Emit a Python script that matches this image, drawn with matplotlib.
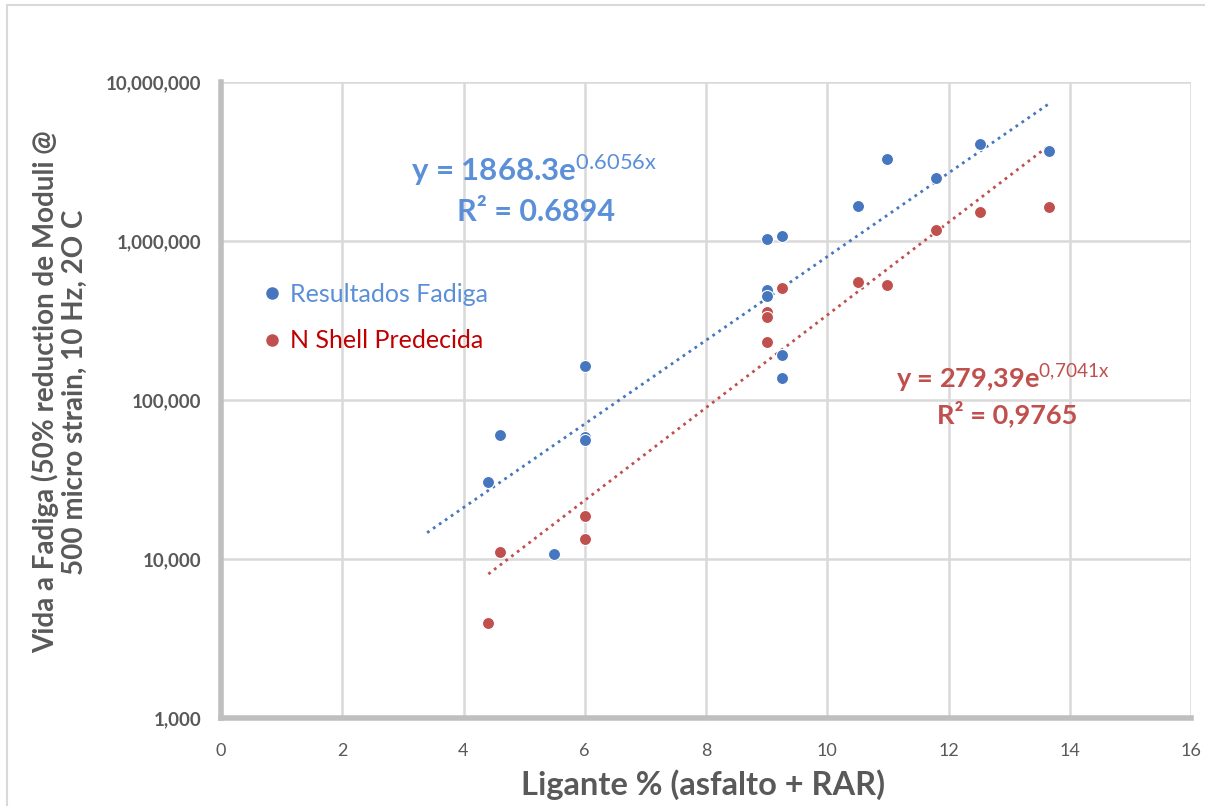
import numpy as np
import matplotlib
matplotlib.use("Agg")
import matplotlib.pyplot as plt
from matplotlib.lines import Line2D

plt.rcParams['font.family'] = ['Lato', 'DejaVu Sans']
plt.rcParams['mathtext.fontset'] = 'custom'
plt.rcParams['mathtext.rm'] = 'Lato'
plt.rcParams['mathtext.bf'] = 'Lato:bold'
plt.rcParams['mathtext.it'] = 'Lato:italic'

# ---- data ----
blue_x = [4.41, 4.61, 5.5, 6.0, 6.0, 6.0, 9.0, 9.0, 9.0, 9.25, 9.25, 9.25, 10.5, 10.98, 11.8, 12.52, 13.66]
blue_y = [30500, 60300, 10700, 163700, 58500, 56000, 1030000, 492000, 451000, 1070000, 192000, 137000,
          1660000, 3280000, 2490000, 4070000, 3680000]
red_x = [4.41, 4.61, 6.0, 6.0, 9.0, 9.0, 9.0, 9.25, 10.5, 10.98, 11.8, 12.52, 13.66]
red_y = [3950, 11070, 18600, 13400, 357000, 333000, 232000, 506000, 552000, 529000, 1178000, 1528000, 1644000]

blue_trend = (1868.3, 0.6056)   # a, b of y = a*exp(b x)
blue_trend_x = [3.4, 13.66]
red_trend = (417.0, 0.671)
red_trend_x = [4.41, 13.62]

x_ticks = [0, 2, 4, 6, 8, 10, 12, 14, 16]
y_ticks = [1000, 10000, 100000, 1000000, 10000000]
y_ticklabels = ["1,000", "10,000", "100,000", "1,000,000", "10,000,000"]

series_labels = ["Resultados Fadiga", "N Shell Predecida"]

BLUE = "#4677BE"
RED = "#C0504D"
BLUE_TXT = "#5B8FD8"
RED_LEG = "#C00000"
GRAY = "#595959"

fig = plt.figure(figsize=(12.05, 8.06), dpi=100)
ax = fig.add_axes([221/1205, 1-718/806, (1191-221)/1205, (718-82)/806])

ax.set_yscale('log')
ax.set_xlim(0, 16)
ax.set_ylim(1000, 10000000)

ax.set_xticks(x_ticks)
ax.set_xticklabels([str(v) for v in x_ticks])
ax.set_yticks(y_ticks)
ax.set_yticklabels(y_ticklabels)
ax.yaxis.set_minor_locator(matplotlib.ticker.NullLocator())

ax.grid(True, color="#D9D9D9", linewidth=1.8)
ax.set_axisbelow(True)

for s in ['top', 'right']:
    ax.spines[s].set_visible(False)
for s in ['left', 'bottom']:
    ax.spines[s].set_color("#BFBFBF")
    ax.spines[s].set_linewidth(4)

ax.tick_params(axis='both', length=0)
ax.tick_params(axis='x', pad=18, labelsize=13, labelcolor=GRAY)
ax.tick_params(axis='y', pad=14, labelsize=13.5, labelcolor=GRAY)
for t in ax.get_yticklabels():
    t.set_fontweight('bold')

# trendlines
for (a, b), xr, c in [(blue_trend, blue_trend_x, BLUE), (red_trend, red_trend_x, RED)]:
    xx = np.linspace(xr[0], xr[1], 100)
    ax.plot(xx, a*np.exp(b*xx), linestyle=(0, (1, 1.6)), color=c, linewidth=2, zorder=2)

ax.scatter(blue_x, blue_y, s=75, color=BLUE, edgecolors='white', linewidths=0.8, zorder=3)
ax.scatter(red_x, red_y, s=75, color=RED, edgecolors='white', linewidths=0.8, zorder=3)

# legend
handles = [Line2D([], [], marker='o', linestyle='none', color=BLUE, markersize=8),
           Line2D([], [], marker='o', linestyle='none', color=RED, markersize=8)]
ax.legend(handles, series_labels, loc='upper left', bbox_to_anchor=(0.017, 0.72),
          frameon=False, fontsize=18, labelcolor=[BLUE_TXT, RED_LEG],
          handletextpad=0.2, labelspacing=0.95, handlelength=1.0)

# equations
ax.text(0.323, 0.862, r"y = 1868.3e$^{\mathrm{0.6056x}}$", transform=ax.transAxes,
        ha='center', va='center', fontsize=22.5, fontweight='bold', color=BLUE_TXT)
ax.text(0.325, 0.795, "R² = 0.6894", transform=ax.transAxes,
        ha='center', va='center', fontsize=22, fontweight='bold', color=BLUE_TXT)
ax.text(0.806, 0.535, r"y = 279,39e$^{\mathrm{0{,}7041x}}$", transform=ax.transAxes,
        ha='center', va='center', fontsize=19.5, fontweight='bold', color=RED)
ax.text(0.811, 0.478, "R² = 0,9765", transform=ax.transAxes,
        ha='center', va='center', fontsize=19.5, fontweight='bold', color=RED)

# axis titles
fig.text(703/1205, 1-785/806, "Ligante % (asfalto + RAR)", ha='center', va='center',
         fontsize=23.5, fontweight='bold', color=GRAY)
fig.text(60/1205, 1-392/806, "Vida a Fadiga (50% reduction de Moduli @\n500 micro strain, 10 Hz, 2O C",
         ha='center', va='center', rotation=90, fontsize=20, fontweight='bold', color=GRAY,
         multialignment='center', linespacing=1.12)

# outer chart border (left and top visible)
fig.add_artist(Line2D([7/1205, 7/1205], [0, 1-5/806], transform=fig.transFigure, color="#D9D9D9", linewidth=1.5))
fig.add_artist(Line2D([7/1205, 1], [1-5/806, 1-5/806], transform=fig.transFigure, color="#D9D9D9", linewidth=1.5))

fig.savefig("out.png", dpi=100, facecolor='white')
